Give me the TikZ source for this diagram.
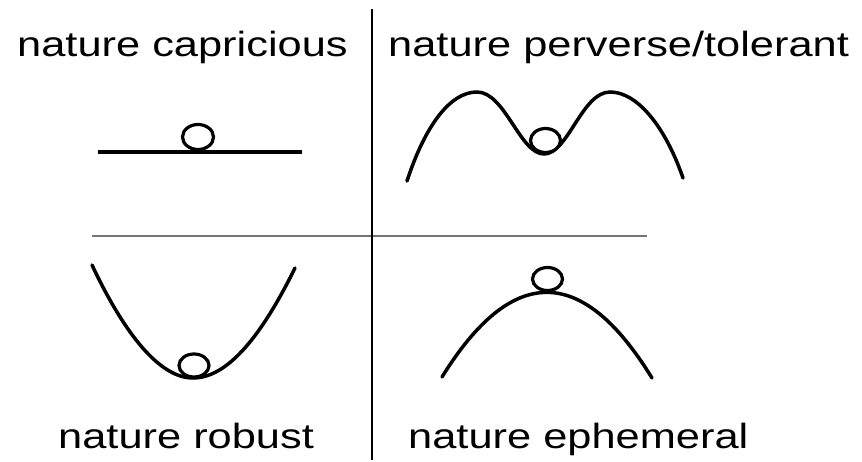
\documentclass[tikz,border=0pt]{standalone}
\usepackage{fontspec}
\setmainfont{Liberation Sans}
\tikzset{
  curve/.style={line width=3.5pt, black, line cap=round},
  ball/.style={line width=3.2pt, black, fill=white},
  sepv/.style={line width=1.8pt, black},
  seph/.style={line width=1.8pt, black!55},
  lbl/.style={anchor=base west, inner sep=0pt, font=\fontsize{35}{40}\selectfont}
}
\begin{document}
\begin{tikzpicture}[x=1pt,y=-1pt]
\useasboundingbox (0,0) rectangle (862,462);
% separators
\coordinate (vt) at (372,9);
\coordinate (vb) at (372,460);
\coordinate (hl) at (92,236);
\coordinate (hr) at (647,236);
\draw[seph] (hl) -- (hr);
\draw[sepv] (vt) -- (vb);
% labels
\node[lbl] (cap) at (17,57) {\scalebox{1.24}[1]{nature capricious}};
\node[lbl] (per) at (388,57) {\scalebox{1.24}[1]{nature perverse/tolerant}};
\node[lbl] (rob) at (58,448) {\scalebox{1.24}[1]{nature robust}};
\node[lbl] (eph) at (408,448) {\scalebox{1.24}[1]{nature ephemeral}};
% capricious: flat
\draw[curve, line cap=butt] (98,152) -- (302,152);
\draw[ball] (198,137) ellipse [x radius=15.5, y radius=12.5];
% perverse/tolerant: double well
\draw[curve] (407,181) .. controls (425,126) and (450,92) .. (477,92)
  .. controls (505,92) and (520,154) .. (544,154)
  .. controls (568,154) and (582,92) .. (610,92)
  .. controls (637,92) and (665,126) .. (683,178);
\draw[ball] (545.5,140.5) ellipse [x radius=15, y radius=12];
% robust: valley
\draw[curve] (92,265) .. controls (125,335) and (160,378) .. (193,378)
  .. controls (228,378) and (262,335) .. (295,268);
\draw[ball] (194,365.5) ellipse [x radius=15, y radius=11.5];
% ephemeral: hill
\draw[curve] (442,377) .. controls (512,264) and (582,264) .. (652,378);
\draw[ball] (547.5,279) ellipse [x radius=15, y radius=11.5];
\end{tikzpicture}
\end{document}
